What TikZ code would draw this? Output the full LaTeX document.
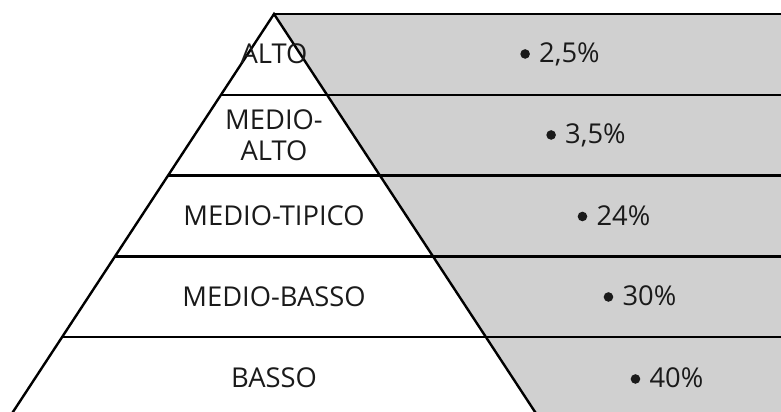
\documentclass[tikz,border=0pt]{standalone}
\usepackage{fontspec}
\setmainfont{Open Sans}
\definecolor{bandgrey}{HTML}{D0D0D0}
\definecolor{inkdark}{HTML}{1A1A1A}
% round list bullet sitting at mid x-height
\newcommand\listdot{\tikz[baseline=0pt]\fill[inkdark] (0pt,6.4pt) circle (3.6pt);\hspace{7pt}}
\begin{document}
\begin{tikzpicture}[x=0.75pt,y=-0.75pt,
  edge/.style={line width=1.8pt,black,line join=miter},
  lab/.style={font=\fontsize{20.5}{23.5}\selectfont,text=inkdark,inner sep=0pt,align=center},
  baselab/.style={lab,anchor=base}]
\useasboundingbox (0,0) rectangle (781,411);
\clip (0,0) rectangle (781,411);
% pyramid corners and far right edge
\coordinate (apex) at (274,14);
\coordinate (bl) at (9,418);
\coordinate (br) at (539,418);
\coordinate (far) at (820,14);
% grey band area right of the pyramid
\fill[bandgrey] (apex) -- (far) -- (820,418) -- (br) -- cycle;
% level boundaries on the left side of the pyramid
\path (apex) -- (bl)
  coordinate[pos=0.2] (l1) coordinate[pos=0.4] (l2)
  coordinate[pos=0.6] (l3) coordinate[pos=0.8] (l4);
\foreach \k in {1,...,4}
  \draw[edge] (l\k) -- (l\k -| far);
% outline
\draw[edge] (bl) -- (apex) -- (br);
\draw[edge] (apex) -- (far);
% level names
\node[baselab] (alto) at (274,63.5) {ALTO};
\node[lab] (medioalto) at (274,135.5) {MEDIO-\\ALTO};
\node[baselab] (tipico) at (274,225.5) {MEDIO-TIPICO};
\node[baselab] (mbasso) at (274,306.5) {MEDIO-BASSO};
\node[baselab] (basso) at (274,387.5) {BASSO};
% shares
\node[baselab] (p1) at (560,62.5) {\listdot 2,5\%};
\node[baselab] (p2) at (586,143.5) {\listdot 3,5\%};
\node[baselab] (p3) at (614,225) {\listdot 24\%};
\node[baselab] (p4) at (640,305.5) {\listdot 30\%};
\node[baselab] (p5) at (667,387.5) {\listdot 40\%};
\end{tikzpicture}
\end{document}
